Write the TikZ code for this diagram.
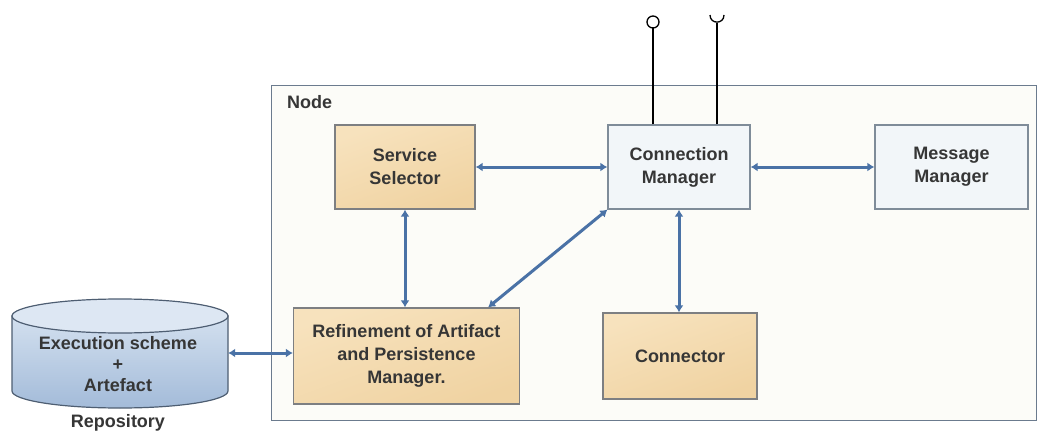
\documentclass[tikz,border=0pt]{standalone}
\usepackage{fontspec}
\setmainfont{Liberation Sans}
\usetikzlibrary{arrows.meta,calc}
\definecolor{txt}{HTML}{363636}
\definecolor{arrowblue}{HTML}{4A72A6}
\definecolor{tanA}{HTML}{F7E2BD}
\definecolor{tanB}{HTML}{F0D3A2}
\definecolor{boxline}{HTML}{7D7F82}
\definecolor{lbfill}{HTML}{F2F6F9}
\definecolor{lbline}{HTML}{7F8C99}
\definecolor{framefill}{HTML}{FCFCF8}
\definecolor{frameline}{HTML}{6B7B8E}
\definecolor{cylA}{HTML}{D3E0EF}
\definecolor{cylB}{HTML}{A3BBD9}
\definecolor{cylTop}{HTML}{DDE7F3}
\definecolor{cylline}{HTML}{4E5E72}
\tikzset{
  lbl/.style={font=\fontsize{18}{23}\selectfont\bfseries, text=txt, align=center},
  tanbox/.style={lbl, draw=boxline, line width=1.2pt, top color=tanA, bottom color=tanB, shading angle=20, inner sep=0pt},
  bluebox/.style={lbl, draw=lbline, line width=1.2pt, fill=lbfill, inner sep=0pt},
  biarrow/.style={draw=arrowblue, line width=3pt, {Latex[length=7pt,width=9pt]}-{Latex[length=7pt,width=9pt]}, shorten <=0pt, shorten >=0pt},
  ifline/.style={draw=black, line width=1.3pt}
}
\begin{document}
\begin{tikzpicture}[x=1pt,y=-1pt]
\useasboundingbox (0,0) rectangle (1037,431);
\fill[white] (0,0) rectangle (1037,431);
% frame
\node[draw=frameline, fill=framefill, line width=1.2pt, minimum width=765pt, minimum height=335pt, inner sep=0pt, anchor=north west] (frame) at (271,85) {};
\node[lbl, anchor=west, inner sep=0pt] (nodelbl) at (287,102) {Node};
% boxes
\node[tanbox, minimum width=140pt, minimum height=84pt] (ss) at (405,167) {Service\\Selector};
\node[bluebox, minimum width=142pt, minimum height=84pt] (cm) at (679,167) {Connection\\Manager};
\node[bluebox, minimum width=153pt, minimum height=84pt] (mm) at (951.5,167) {Message\\Manager};
\node[tanbox, minimum width=226pt, minimum height=96pt] (ref) at (406.5,356) {Refinement of Artifact\\and Persistence\\Manager.};
\node[tanbox, minimum width=154pt, minimum height=86pt] (con) at (680,356) {Connector};
% cylinder
\node[minimum width=216pt, minimum height=109pt, inner sep=0pt] (repo) at (120,353) {};
\shade[top color=cylA, bottom color=cylB, draw=cylline, line width=1.2pt]
  (12,316) -- (12,391) .. controls (12,400.4) and (60.4,408) .. (120,408)
  .. controls (179.6,408) and (228,400.4) .. (228,391) -- (228,316) -- cycle;
\filldraw[fill=cylTop, draw=cylline, line width=1.2pt] (120,316) ellipse [x radius=108pt, y radius=17pt];
\node[lbl, font=\fontsize{18}{21}\selectfont\bfseries] (repotext) at (118,364) {Execution scheme\\+\\Artefact};
\node[lbl] (repolbl) at (118,423) {Repository};
% interfaces
\coordinate (lol) at (653,22);
\coordinate (sock) at (717,23);
\draw[ifline] (lol |- cm.north) -- ++(0,-97);
\draw[ifline] (lol) circle [radius=6pt];
\draw[ifline] (sock |- cm.north) -- (sock);
\draw[ifline] (710,15) .. controls (710,24.5) and (724,24.5) .. (724,15);
% arrows
\draw[biarrow] (ss.east) -- (cm.west);
\draw[biarrow] (cm.east) -- (mm.west);
\draw[biarrow] (ss.south) -- (ss.south |- ref.north);
\draw[biarrow] ($(ref.north east)+(-32,0)$) -- (cm.south west);
\draw[biarrow] (cm.south) -- (cm.south |- con.north);
\draw[biarrow] (repo.east) -- (repo.east -| ref.west);
\end{tikzpicture}
\end{document}
